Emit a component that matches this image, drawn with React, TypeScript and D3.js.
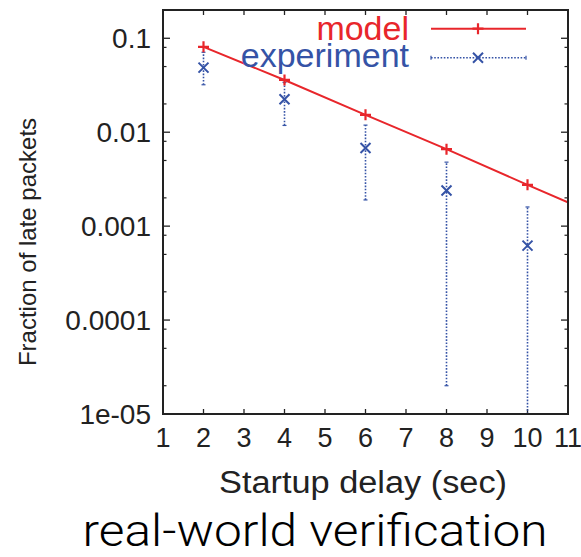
import React from "react";
import * as d3 from "d3";

// Startup delay (sec) on the x axis
const xTickValues = [1, 2, 3, 4, 5, 6, 7, 8, 9, 10, 11];
// Fraction of late packets (log axis)
const yTickValues = [1e-5, 1e-4, 1e-3, 1e-2, 1e-1];
const yTickLabels = ["1e-05", "0.0001", "0.001", "0.01", "0.1"];
const yMinorFactors = [2, 5, 8];

// model curve
const modelDelay = [2, 4, 6, 8, 10, 12];
const modelFraction = [0.081, 0.036, 0.0153, 0.0066, 0.00275, 0.00117];

// measured points with their spread
const expDelay = [2, 4, 6, 8, 10];
const expFraction = [0.0487, 0.0224, 0.0068, 0.0024, 0.00062];
const expLow = [0.032, 0.0118, 0.0019, 0.00002, 0.00001];
const expHigh = [0.071, 0.034, 0.0119, 0.0048, 0.0016];

const W = 581;
const H = 557;
const left = 163;
const right = 568;
const top = 10;
const bottom = 414;

const RED = "#e8262b";
const BLUE = "#3553a6";
const AXIS = "#222";

const x = d3.scaleLinear().domain([1, 11]).range([left, right]);
const y = d3.scaleLog().domain([1e-5, 0.2]).range([bottom, top]);

const plus = (cx: number, cy: number, s = 5) => `M${cx - s},${cy}H${cx + s}M${cx},${cy - s}V${cy + s}`;
const cross = (cx: number, cy: number, s = 5) =>
  `M${cx - s},${cy - s}L${cx + s},${cy + s}M${cx - s},${cy + s}L${cx + s},${cy - s}`;

export default function App() {
  const line = d3
    .line<number>()
    .x((_, i) => x(modelDelay[i]))
    .y((v) => y(v));

  const minorTicks: number[] = [];
  yTickValues.forEach((v) => {
    yMinorFactors.forEach((f) => {
      const m = v * f;
      if (m <= 0.2) minorTicks.push(m);
    });
  });

  const font = "'Liberation Sans', Arial, Helvetica, sans-serif";

  return (
    <svg width={W} height={H} style={{ position: "absolute", left: 0, top: 0, background: "#fff" }}>
      <defs>
        <clipPath id="plotArea">
          <rect x={left} y={top} width={right - left} height={bottom - top} />
        </clipPath>
      </defs>

      {/* x ticks, bottom and top */}
      {xTickValues.map((t) => (
        <g key={"xt" + t} stroke={AXIS} strokeWidth={1.3}>
          <line x1={x(t)} x2={x(t)} y1={bottom} y2={bottom - 5} />
          <line x1={x(t)} x2={x(t)} y1={top} y2={top + 5} />
        </g>
      ))}
      {xTickValues.map((t) => (
        <text
          key={"xl" + t}
          x={x(t)}
          y={447}
          textAnchor="middle"
          fontFamily={font}
          fontSize={27}
          fill="#222"
        >
          {t}
        </text>
      ))}

      {/* y ticks, left and right */}
      {yTickValues.map((t) => (
        <g key={"yt" + t} stroke={AXIS} strokeWidth={1.3}>
          <line x1={left} x2={left + 7} y1={y(t)} y2={y(t)} />
          <line x1={right} x2={right - 7} y1={y(t)} y2={y(t)} />
        </g>
      ))}
      {minorTicks.map((t) => (
        <g key={"ym" + t} stroke={AXIS} strokeWidth={1.2}>
          <line x1={left} x2={left + 3.5} y1={y(t)} y2={y(t)} />
          <line x1={right} x2={right - 3.5} y1={y(t)} y2={y(t)} />
        </g>
      ))}
      {yTickValues.map((t, i) => (
        <text
          key={"yl" + t}
          x={151}
          y={y(t) + 10}
          textAnchor="end"
          fontFamily={font}
          fontSize={28}
          fill="#222"
        >
          {yTickLabels[i]}
        </text>
      ))}

      {/* measured spread and points */}
      <g clipPath="url(#plotArea)">
        {expDelay.map((d, i) => (
          <g key={"e" + d} stroke={BLUE} strokeWidth={1.6}>
            <line
              x1={x(d)}
              x2={x(d)}
              y1={y(expLow[i])}
              y2={y(expHigh[i])}
              strokeDasharray="1.6 1.6"
            />
            <line x1={x(d) - 2} x2={x(d) + 2} y1={y(expLow[i])} y2={y(expLow[i])} strokeWidth={1.2} />
            <line x1={x(d) - 2} x2={x(d) + 2} y1={y(expHigh[i])} y2={y(expHigh[i])} strokeWidth={1.2} />
            <path d={cross(x(d), y(expFraction[i]))} strokeWidth={2} fill="none" />
          </g>
        ))}

        {/* model */}
        <path d={line(modelFraction) || ""} fill="none" stroke={RED} strokeWidth={2} />
        {modelFraction.map((v, i) => (
          <path key={"m" + i} d={plus(x(modelDelay[i]), y(v), 5.5)} stroke={RED} strokeWidth={2.2} />
        ))}
      </g>

      {/* legend */}
      <text x={409} y={40} textAnchor="end" fontFamily={font} fontSize={34} fill={RED}>
        model
      </text>
      <line x1={431} x2={526} y1={28.7} y2={28.7} stroke={RED} strokeWidth={2} />
      <path d={plus(478, 28.7, 5.5)} stroke={RED} strokeWidth={2.2} />

      <text x={409} y={67} textAnchor="end" fontFamily={font} fontSize={34} fill={BLUE}>
        experiment
      </text>
      <g stroke={BLUE}>
        <line x1={431} x2={526} y1={57.7} y2={57.7} strokeWidth={1.6} strokeDasharray="1.6 1.6" />
        <line x1={431} x2={431} y1={55.7} y2={59.7} strokeWidth={1.2} />
        <line x1={526} x2={526} y1={55.7} y2={59.7} strokeWidth={1.2} />
        <path d={cross(478, 57.7)} strokeWidth={2} fill="none" />
      </g>

      {/* frame */}
      <rect
        x={left}
        y={top}
        width={right - left}
        height={bottom - top}
        fill="none"
        stroke={AXIS}
        strokeWidth={2}
      />

      {/* axis titles */}
      <text
        transform={`translate(36,242) rotate(-90)`}
        textAnchor="middle"
        fontFamily={font}
        fontSize={24}
        fill="#222"
      >
        Fraction of late packets
      </text>
      <text
        x={363}
        y={493}
        textAnchor="middle"
        fontFamily={font}
        fontSize={31}
        textLength={288}
        lengthAdjust="spacingAndGlyphs"
        fill="#222"
      >
        Startup delay (sec)
      </text>

      <text
        x={315}
        y={546}
        textAnchor="middle"
        fontFamily="Roboto, 'DejaVu Sans', sans-serif"
        fontWeight={300}
        fontSize={44}
        textLength={465}
        lengthAdjust="spacingAndGlyphs"
        fill="#000"
      >
        real-world verification
      </text>
    </svg>
  );
}
